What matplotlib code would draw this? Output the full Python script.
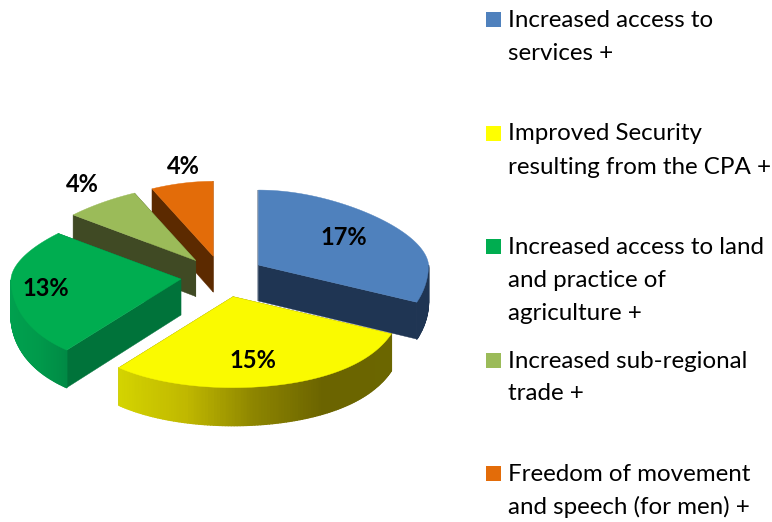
import numpy as np
import matplotlib
matplotlib.use("Agg")
import matplotlib.pyplot as plt
from matplotlib.patches import Polygon, Rectangle
from matplotlib.collections import PolyCollection
from matplotlib.colors import LinearSegmentedColormap

# ---- data ----
categories = [
    "Increased access to\nservices +",
    "Improved Security\nresulting from the CPA +",
    "Increased access to land\nand practice of\nagriculture +",
    "Increased sub-regional\ntrade +",
    "Freedom of movement\nand speech (for men) +",
]
values = [17, 15, 13, 4, 4]
value_labels = ["17%", "15%", "13%", "4%", "4%"]

# ---- style ----
top_colors = ["#4f81bd", "#fafa00", "#00ad50", "#9bbb59", "#e36c09"]
wall_colors = ["#1f3553", "#6b6500", "#00733a", "#404a24", "#5c2a00"]
outer_stops = [
    ["#1f3553", "#1f3553"],
    ["#d4d400", "#c0b800", "#8d8500", "#6b6400", "#6b6600"],
    ["#00a04e", "#009a4b", "#008a45"],
    ["#404a24", "#404a24"],
    ["#5c2a00", "#5c2a00"],
]
label_radius = [0.60, 0.66, 0.79, 1.24, 1.25]
label_nudge = [(3, -2), (-8, 7), (-2, 0), (-7, -5), (3, -1)]
explode = 0.25
CX, CY = 223.0, 276.0
RX, RY = 170.0, 83.0
DEPTH = 36.0
FS_LEGEND = 17.4
FS_LABEL = 17.0

fig = plt.figure(figsize=(7.72, 5.22), dpi=100)
ax = fig.add_axes([0, 0, 1, 1])
ax.set_xlim(0, 772)
ax.set_ylim(522, 0)
ax.axis("off")


def project(x, y, vx, vy):
    """Point of a wedge's unit disc -> picture, with a mild perspective about the wedge's tip."""
    x, y = np.asarray(x, float), np.asarray(y, float)
    s = np.where(y > 0, 1 - 0.25 * np.abs(y) ** 1.5, 1 + 0.17 * y ** 2)
    return vx + RX * s * x, vy - (RY - 8 * y) * y


def depth(y):
    return DEPTH - 2 * np.asarray(y, float)


fractions = np.array(values, float) / sum(values)
ends = 90 - 360 * np.cumsum(fractions)
starts = ends + 360 * fractions

order = [4, 3, 2, 0, 1]  # painted back to front
for rank, i in enumerate(order):
    z = 2 + rank
    a0, a1 = starts[i], ends[i]
    mid = np.radians((a0 + a1) / 2)
    vx, vy = project(explode * np.cos(mid), explode * np.sin(mid), CX, CY)
    th = np.radians(np.linspace(a0, a1, 120))
    rim_x, rim_y = np.cos(th), np.sin(th)

    # radial walls
    for edge in (0, -1):
        ex = np.array([0, rim_x[edge]])
        ey = np.array([0, rim_y[edge]])
        px, py = project(ex, ey, vx, vy)
        poly = np.r_[np.c_[px, py], np.c_[px[::-1], (py + depth(ey))[::-1]]]
        ax.add_patch(Polygon(poly, closed=True, fc=wall_colors[i], ec=wall_colors[i], lw=0.3, zorder=z))

    # outer wall: only the part of the rim that faces the viewer
    mask = rim_y <= 0
    if mask.sum() > 1:
        px, py = project(rim_x[mask], rim_y[mask], vx, vy)
        pyb = py + depth(rim_y[mask])
        quads = [
            [(px[k], py[k]), (px[k + 1], py[k + 1]), (px[k + 1], pyb[k + 1]), (px[k], pyb[k])]
            for k in range(len(px) - 1)
        ]
        cmap = LinearSegmentedColormap.from_list("wall", outer_stops[i])
        t = (px[:-1] - px.min()) / max(px.max() - px.min(), 1)
        cols = cmap(t)
        ax.add_collection(PolyCollection(quads, facecolors=cols, edgecolors=cols, linewidths=1.0, zorder=z))

    # top face
    px, py = project(np.r_[0, rim_x], np.r_[0, rim_y], vx, vy)
    ax.add_patch(Polygon(np.c_[px, py], closed=True, fc=top_colors[i], ec=top_colors[i], lw=0.3, zorder=z + 0.5))

    # value label
    lx, ly = project(label_radius[i] * np.cos(mid), label_radius[i] * np.sin(mid), vx, vy)
    ax.text(lx + label_nudge[i][0], ly + label_nudge[i][1], value_labels[i], family="Lato", weight="bold",
            fontsize=FS_LABEL, ha="center", va="center", color="black", zorder=20)

# legend
for i, cat in enumerate(categories):
    base = 27 + 113.5 * i
    ax.add_patch(Rectangle((486, base - 15), 15, 15, fc=top_colors[i] if i != 1 else "#ffff00", ec="none", zorder=5))
    for j, line in enumerate(cat.split("\n")):
        ax.text(508, base + 33 * j, line, family="Lato", fontsize=FS_LEGEND,
                ha="left", va="baseline", color="black", zorder=5)

fig.savefig("out.png", dpi=100, facecolor="white")
